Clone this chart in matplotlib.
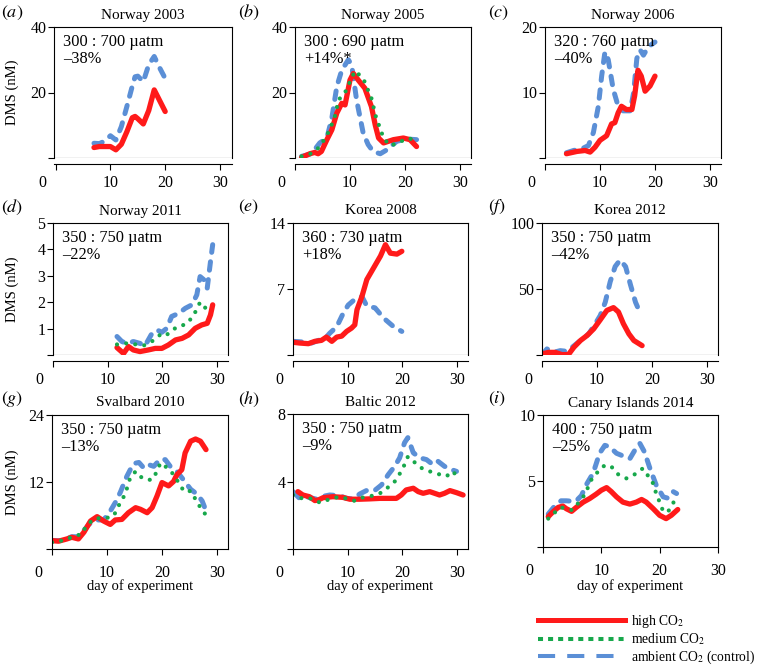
import matplotlib
matplotlib.use("Agg")
import matplotlib.pyplot as plt
from matplotlib.lines import Line2D
from matplotlib.transforms import ScaledTranslation

plt.rcParams["font.family"] = ["Liberation Serif", "DejaVu Serif"]
plt.rcParams["mathtext.fontset"] = "stix"
plt.rcParams["font.size"] = 10.5

RED = "#ff1a1a"
GREEN = "#17a84b"
BLUE = "#5b8fd6"

# (a) Norway 2003
a_days = [7, 8, 9, 10, 11, 12, 13, 14, 14.5, 15, 16, 17, 18, 19, 20]
a_high = [3.2, 3.5, 3.5, 3.5, 2.5, 4.2, 8, 12.3, 12.7, 12, 10.4, 14.5, 20.8, 17.5, 14.2]
a_amb = [4.5, 4.4, 5.2, 6.8, 5.5, 9.6, 15.7, 22, 24.8, 25, 23.3, 28.5, 31, 27.5, 24.3]

# (b) Norway 2005
b_high_days = [1.2, 2.7, 3.6, 4.2, 4.8, 5.8, 6.7, 7.6, 8.5, 9.1, 10, 10.6, 11.5, 12.7,
               13.9, 14.6, 15.2, 16.1, 17.9, 19.7, 20.9, 22.1]
b_high = [0.2, 1.3, 1.7, 1.3, 2, 5.6, 8.6, 13.7, 16.7, 16.2, 23.8, 25.8, 23.8, 21.3,
          15.7, 10, 6.1, 4.6, 5.6, 6.1, 5.6, 3.5]
b_med_days = [1.2, 2.7, 4.2, 5.5, 6.4, 7.3, 7.9, 9.1, 10, 10.9, 12.4, 13.9, 14.8, 15.5,
              16.1, 17.3, 18.8, 20.3, 22.1]
b_med = [0.5, 1.2, 3, 6, 9, 13, 17.7, 20, 23.3, 26.6, 24.3, 18.2, 12, 9, 6, 3.8, 4.6, 6, 5.6]
b_amb_days = [1.2, 3, 4.5, 5.8, 6.7, 7.6, 8.5, 9.7, 10.3, 11.2, 12.4, 13.3, 14.2, 15.5,
              16.7, 18.5, 20.3, 22.1]
b_amb = [0.5, 1.3, 4.6, 6.1, 12.2, 21.8, 26.8, 30, 28.4, 17.7, 7.6, 4.1, 2, 1.3, 2.5, 5.1, 5.8, 5.6]

# (c) Norway 2006
c_high_days = [3.9, 5.8, 7.3, 8.2, 9.1, 10, 11.2, 12.1, 12.7, 13.3, 13.9, 14.8, 15.8,
               16.3, 16.9, 17.5, 18.2, 19.1, 20]
c_high = [0.65, 1.0, 1.15, 0.9, 1.65, 2.7, 3.4, 5.2, 5.4, 6.9, 7.9, 7.4, 7.4, 9.5, 13.4,
          12.5, 10.2, 11, 12.5]
c_amb_days = [3.9, 5.2, 6.7, 7.9, 8.8, 9.7, 10.3, 10.9, 11.5, 12.4, 13.3, 14.2, 15.5,
              16.1, 16.7, 17.3, 17.9, 18.8, 20]
c_amb = [0.8, 1.15, 1.4, 1.9, 3.9, 7.9, 12.5, 16.2, 15, 10.5, 7.9, 7.2, 7.2, 9.9, 15.2,
         16.5, 15.7, 17, 17.7]

# (d) Norway 2011
d_high_days = [11.7, 12.9, 13.8, 14.7, 15.9, 17.4, 18.7, 19.9, 21.1, 22.4, 23.6, 24.8,
               26.0, 27.2, 28.2, 28.8, 29.2]
d_high = [0.28, 0.06, 0.32, 0.19, 0.13, 0.19, 0.25, 0.25, 0.38, 0.57, 0.63, 0.76, 1.01,
          1.14, 1.2, 1.52, 1.9]
d_med_days = [11.7, 13.8, 16.5, 18.0, 19.5, 20.5, 21.5, 23.0, 24.2, 25.6, 26.9, 27.8, 28.6]
d_med = [0.4, 0.45, 0.35, 0.5, 0.75, 0.7, 0.9, 1.1, 1.15, 1.45, 2.0, 1.8, 1.55]
d_amb_days = [11.7, 12.6, 13.5, 14.7, 15.9, 16.8, 18.1, 19.0, 19.9, 20.8, 21.7, 23.0,
              24.2, 25.4, 26.3, 26.9, 27.6, 28.2, 28.8, 29.2]
d_amb = [0.7, 0.51, 0.44, 0.51, 0.44, 0.34, 0.82, 0.95, 0.86, 1.01, 1.46, 1.58, 1.77,
         1.9, 2.28, 2.97, 2.85, 2.53, 3.54, 4.18]

# (e) Korea 2008
e_high_days = [0, 1.2, 2.8, 4, 5.2, 6.1, 7.1, 8, 8.9, 9.8, 10.7, 11.3, 11.7, 12.6, 13.5,
               14.7, 16, 16.9, 17.8, 19, 19.9]
e_high = [1.35, 1.27, 1.2, 1.45, 1.55, 1.9, 1.45, 1.9, 2, 2.5, 2.85, 3.2, 4.8, 6.2, 8,
          9.2, 10.5, 11.7, 10.8, 10.7, 11]
e_amb_days = [0, 1.8, 3.4, 4.9, 5.8, 6.7, 8, 9.2, 10.1, 11.3, 12.6, 13.5, 15, 16.6, 18.4, 19.9]
e_amb = [1.45, 1.38, 1.27, 1.6, 1.7, 2.3, 3.0, 4.45, 5.3, 5.9, 6.2, 5.2, 5, 3.9, 3.0, 2.5]

# (f) Korea 2012
f_high_days = [0, 1.2, 2.4, 3.6, 4.8, 5.8, 7, 8.2, 9.4, 10.6, 11.8, 13, 13.9, 14.8,
               15.8, 16.7, 18.2]
f_high = [0.8, 2, 2, 0.3, 0.3, 5.9, 11, 14.8, 19.8, 26.7, 33.8, 35.9, 32.6, 23.7, 16, 11, 7.1]
f_amb_days = [0, 0.9, 2.1, 3.3, 4.5, 5.5, 7, 8.5, 9.7, 10.6, 11.5, 12.4, 13.3, 14.2,
              15.2, 16.1, 17, 17.9]
f_amb = [0, 4.6, 2, 3.3, 2.8, 5.9, 11, 16, 23.7, 30, 40, 55.5, 67, 72, 67, 53, 40, 31.3]

# (g) Svalbard 2010
g_high_days = [0, 1.2, 2.7, 3.6, 4.8, 5.8, 7, 8.2, 9.4, 10.6, 11.5, 12.7, 13.9, 15.2,
               16.1, 17.3, 18.2, 19.1, 20, 21.2, 22.1, 22.7, 23.6, 24.2, 25.2, 26.1, 27, 28]
g_high = [1.5, 1.4, 1.8, 2.1, 1.8, 3, 5, 5.8, 5, 4.4, 5.2, 5.3, 6.5, 7.4, 7.1, 6.5, 7.4,
          9.5, 11.9, 11.3, 12.1, 13.3, 14.2, 17.2, 19.3, 19.7, 19.3, 17.8]
g_med_days = [0, 1.8, 3.6, 5.4, 6.4, 7.9, 9.7, 11.2, 12.4, 13.3, 14.2, 15.2, 16.4, 17.3,
              18.2, 19.1, 19.7, 20.6, 21.5, 22.4, 23.3, 24.2, 25.2, 26.1, 27, 27.9]
g_med = [1.2, 1.5, 2.1, 2.7, 4.4, 5.5, 5.5, 5.9, 8.3, 9.8, 12.7, 13.9, 12.7, 12.4, 12.4,
         13.9, 15.4, 14.8, 14, 13, 11.3, 10.2, 10.4, 8.9, 7.4, 6.2]
g_amb_days = [0, 1.8, 3.6, 4.8, 5.8, 6.7, 7.9, 9.4, 10.6, 11.5, 12.4, 13.6, 14.8, 15.8,
              16.7, 17.6, 18.5, 19.7, 20.6, 21.5, 22.7, 23.9, 25.2, 26.4, 27.3, 27.9]
g_amb = [1.5, 1.5, 2.2, 2.2, 3.3, 4.4, 5.2, 5.2, 6.8, 8.3, 10.1, 13, 15.3, 15.5, 14.5,
         15.1, 14.8, 16.1, 16, 14.8, 13.9, 12.4, 10.7, 9.8, 8.6, 7.1]

# (h) Baltic 2012
h_high_days = [0.9, 1.8, 3, 4, 4.6, 5.5, 7.3, 9.1, 10.4, 12.2, 14, 15.9, 17.7, 18.9, 19.8,
               20.7, 22, 22.9, 23.8, 25, 25.9, 26.8, 27.7, 28.7, 29.9, 31.1]
h_high = [3.4, 3.2, 3.1, 2.87, 2.9, 3.04, 3.1, 3.06, 2.95, 2.95, 2.97, 3.0, 3.0, 3.0, 3.2,
          3.5, 3.6, 3.4, 3.3, 3.4, 3.3, 3.2, 3.3, 3.46, 3.34, 3.2]
h_med_days = [0, 1.2, 2.4, 3.7, 4.9, 6.7, 8.5, 10.1, 11.3, 12.8, 14.3, 15.9, 17.4, 18.6,
              19.5, 20.4, 21, 22, 23.5, 25, 26.5, 28, 29.3, 30.2]
h_med = [3.2, 3.0, 3.05, 2.95, 2.75, 2.95, 3.1, 2.96, 2.85, 3.06, 3.14, 3.3, 3.66, 4.0,
         4.45, 5.0, 5.47, 5.2, 4.8, 4.6, 4.45, 4.3, 4.6, 4.15]
h_amb_days = [0, 1.2, 2.4, 3.7, 4.3, 5.2, 6.7, 8.5, 9.8, 11, 12.2, 13.4, 14.9, 16.2, 17.4,
              18.6, 19.5, 20.4, 21, 22, 23.2, 24.4, 25.6, 26.5, 27.7, 29, 29.9]
h_amb = [3.4, 3.0, 3.1, 3.0, 2.95, 3.1, 3.2, 3.16, 3.0, 2.97, 3.26, 3.46, 3.46, 3.8, 4.4,
         4.9, 5.4, 6.3, 6.6, 5.7, 5.4, 5.3, 5.0, 5.2, 4.9, 4.7, 4.6]

# (i) Canary Islands 2014
i_high_days = [0.9, 1.7, 2.6, 3.4, 4, 4.9, 5.7, 6.9, 8, 9.1, 10, 10.9, 11.7, 12.6, 13.7,
               14.9, 16, 16.9, 17.7, 18.9, 20, 21.1, 22, 23.1]
i_high = [2.3, 2.66, 3.0, 3.1, 2.9, 2.7, 3.0, 3.4, 3.67, 4.0, 4.3, 4.5, 4.2, 3.8, 3.4,
          3.25, 3.4, 3.6, 3.4, 2.9, 2.4, 2.15, 2.4, 2.84]
i_med_days = [0.9, 1.7, 3.1, 4.9, 6, 6.9, 7.7, 8.3, 9.4, 10.6, 11.7, 12.9, 14.3, 15.7,
              17.1, 18, 18.9, 19.4, 20, 20.6, 21.4, 22.3, 22.9]
i_med = [2.15, 2.5, 3.0, 2.8, 3.3, 3.8, 4.5, 5.1, 5.7, 6.2, 6.1, 5.5, 5.2, 5.5, 5.95,
         5.4, 4.8, 4.05, 3.4, 2.7, 2.65, 3.3, 3.97]
i_amb_days = [0.9, 2, 3.1, 4, 4.9, 5.7, 6.6, 7.4, 8.6, 9.7, 10.6, 11.4, 12.6, 13.7, 14.9,
              15.7, 16.6, 17.4, 18.3, 19.4, 20.6, 21.4, 22.3, 22.9]
i_amb = [2.5, 3.1, 3.5, 3.5, 3.47, 3.5, 3.9, 4.7, 5.6, 7.1, 7.7, 7.6, 7.1, 6.9, 6.7, 7.3,
         7.85, 7.2, 6, 4.7, 3.8, 3.7, 4.2, 4.05]

titles = ["Norway 2003", "Norway 2005", "Norway 2006", "Norway 2011", "Korea 2008",
          "Korea 2012", "Svalbard 2010", "Baltic 2012", "Canary Islands 2014"]
letters = ["a", "b", "c", "d", "e", "f", "g", "h", "i"]
notes = ["300 : 700 µatm\n–38%", "300 : 690 µatm\n+14%*", "320 : 760 µatm\n–40%",
         "350 : 750 µatm\n–22%", "360 : 730 µatm\n+18%", "350 : 750 µatm\n–42%",
         "350 : 750 µatm\n–13%", "350 : 750 µatm\n–9%", "400 : 750 µatm\n–25%"]
ytops = [40, 40, 20, 5, 14, 100, 24, 8, 10]
yticks = [[0, 20, 40], [0, 20, 40], [0, 10, 20], [0, 1, 2, 3, 4, 5], [0, 7, 14],
          [0, 50, 100], [0, 12, 24], [0, 4, 8], [0, 5, 10]]
xticks = [0, 10, 20, 30]

series = [
    ((a_days, a_high), None, (a_days, a_amb)),
    ((b_high_days, b_high), (b_med_days, b_med), (b_amb_days, b_amb)),
    ((c_high_days, c_high), None, (c_amb_days, c_amb)),
    ((d_high_days, d_high), (d_med_days, d_med), (d_amb_days, d_amb)),
    ((e_high_days, e_high), None, (e_amb_days, e_amb)),
    ((f_high_days, f_high), None, (f_amb_days, f_amb)),
    ((g_high_days, g_high), (g_med_days, g_med), (g_amb_days, g_amb)),
    ((h_high_days, h_high), (h_med_days, h_med), (h_amb_days, h_amb)),
    ((i_high_days, i_high), (i_med_days, i_med), (i_amb_days, i_amb)),
]

W, H = 762, 668
fig = plt.figure(figsize=(W / 100, H / 100), dpi=100)

# axes boxes in pixels: left, top, right, bottom
boxes = [(54, 27, 232, 158), (295, 27, 471, 158), (545, 27, 721, 158),
         (53, 223, 228, 355), (293, 223, 468, 355), (542, 223, 718, 355),
         (52, 415, 228, 549), (293, 414, 468, 549), (543, 415, 718, 547)]
xlims = [(-0.3, 32.2)] + [(0, 32)] * 7 + [(0, 30)]
letter_x = [1, 238, 488]
letter_y = [12.5, 207, 399]
title_y = [15, 211, 403]

for k, (l, t, r, b) in enumerate(boxes):
    row, col = divmod(k, 3)
    ax = fig.add_axes([l / W, 1 - b / H, (r - l) / W, (b - t) / H])
    high, med, amb = series[k]
    ax.plot(*amb, color=BLUE, lw=3.6, linestyle=(0, (1.7, 1.9)),
            dash_capstyle="round", solid_joinstyle="round")
    ax.plot(*high, color=RED, lw=3.8, solid_capstyle="round", solid_joinstyle="round")
    if med is not None:
        ax.plot(*med, color=GREEN, lw=3.0, linestyle=(0, (0.01, 2.2)),
                dash_capstyle="round")

    ax.set_xlim(*xlims[k])
    ax.set_ylim(0, ytops[k])
    ax.set_xticks(xticks)
    ax.set_xticklabels([str(v) for v in xticks])
    ax.set_yticks(yticks[k])
    ax.set_yticklabels([""] + [str(v) for v in yticks[k][1:]])
    for s in ax.spines.values():
        s.set_linewidth(0.8)
    if row < 2:
        ax.spines["bottom"].set_position(("outward", 4))
        ax.axhline(0, color="black", lw=0.8, zorder=0.5)
        xpad = 4
    else:
        xpad = 7.5
    ax.tick_params(axis="x", direction="out", length=4, width=0.8, pad=xpad, labelsize=11.5)
    ax.tick_params(axis="y", direction="out", length=4, width=0.8, pad=1.5, labelsize=11.5)
    zero = ax.xaxis.get_major_ticks()[0].label1
    zero.set_transform(zero.get_transform() + ScaledTranslation(-0.135, 0, fig.dpi_scale_trans))

    ax.annotate(notes[k], xy=(0, 1), xycoords="axes fraction", xytext=(6.5, -5),
                textcoords="offset points", ha="left", va="top", linespacing=1.05,
                fontsize=11.8)

    fig.text((l + r) / 2 / W, 1 - title_y[row] / H, titles[k], ha="center", va="center",
             fontsize=11)
    fig.text(letter_x[col] / W, 1 - letter_y[row] / H, "$(" + letters[k] + ")$",
             ha="left", va="center", fontsize=13)
    if col == 0:
        fig.text(12 / W, 1 - (t + b) / 2 / H, "DMS (nM)", rotation=90, ha="center",
                 va="center", fontsize=10.5)
    if row == 2:
        fig.text((l + r) / 2 / W, 1 - 586.5 / H, "day of experiment", ha="center",
                 va="center", fontsize=10.5)

handles = [
    Line2D([], [], color=RED, lw=3.6),
    Line2D([], [], color=GREEN, lw=2.9, linestyle=(0, (1.25, 1.25))),
    Line2D([], [], color=BLUE, lw=2.9, linestyle=(0, (4.25, 3.0))),
]
labels = ["high CO$_2$", "medium CO$_2$", "ambient CO$_2$ (control)"]
fig.legend(handles, labels, loc="upper left", bbox_to_anchor=(538 / W, 1 - 613 / H),
           frameon=False, handlelength=6.4, handletextpad=0.4, labelspacing=0.1,
           borderpad=0, borderaxespad=0, fontsize=9.8)

fig.savefig("out.png", dpi=100)
